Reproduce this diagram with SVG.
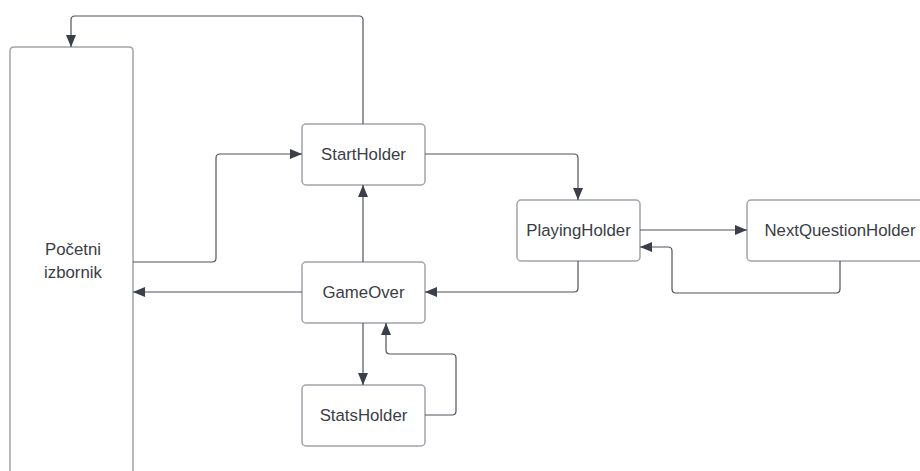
<svg xmlns="http://www.w3.org/2000/svg" width="920" height="471" viewBox="0 0 920 471">
<defs>
<marker id="ah" viewBox="0 0 12 10" refX="12" refY="5" markerWidth="12" markerHeight="10" markerUnits="userSpaceOnUse" orient="auto">
<path d="M0,0 L12,5 L0,10 Z" fill="#3a3f4a"/>
</marker>
<style>
.box{fill:#fff;stroke:#a3a4aa;stroke-width:1.5}
.t{font-family:"Liberation Sans",Arial,sans-serif;font-size:16.8px;fill:#3a3d44;text-anchor:middle}
.c{fill:none;stroke:#4f535c;stroke-width:1.2;marker-end:url(#ah)}
</style>
</defs>
<rect width="920" height="471" fill="#fff"/>
<g id="pocetni"><path class="box" d="M10,480 V51 Q10,47 14,47 H129 Q133,47 133,51 V480"/><text class="t" x="73" y="255">Početni</text><text class="t" x="73" y="278">izbornik</text></g>
<g id="startholder"><rect class="box" x="302" y="124" width="123" height="61" rx="4"/><text class="t" x="363.5" y="160">StartHolder</text></g>
<g id="gameover"><rect class="box" x="302" y="262" width="123" height="61" rx="4"/><text class="t" x="363.5" y="298">GameOver</text></g>
<g id="statsholder"><rect class="box" x="302" y="385" width="123" height="61" rx="4"/><text class="t" x="363.5" y="421">StatsHolder</text></g>
<g id="playingholder"><rect class="box" x="517" y="200" width="123" height="61" rx="4"/><text class="t" x="578.5" y="236">PlayingHolder</text></g>
<g id="nextquestionholder"><rect class="box" x="747" y="200" width="180" height="61" rx="4"/><text class="t" x="840" y="236">NextQuestionHolder</text></g>
<g id="connectors">
<path class="c" d="M363,124 V20 Q363,16 359,16 H75 Q71,16 71,20 V47"/>
<path class="c" d="M133,262 H212 Q216,262 216,258 V158 Q216,154 220,154 H302"/>
<path class="c" d="M425,154 H574 Q578,154 578,158 V200"/>
<path class="c" d="M363,262 V185"/>
<path class="c" d="M302,292 H133"/>
<path class="c" d="M578,261 V288 Q578,292 574,292 H425"/>
<path class="c" d="M363,323 V385"/>
<path class="c" d="M425,415 H452 Q456,415 456,411 V358 Q456,354 452,354 H390 Q386,354 386,350 V323"/>
<path class="c" d="M640,230 H747"/>
<path class="c" d="M840,261 V289 Q840,293 836,293 H676 Q672,293 672,289 V251 Q672,247 668,247 H640"/>
</g>
</svg>
